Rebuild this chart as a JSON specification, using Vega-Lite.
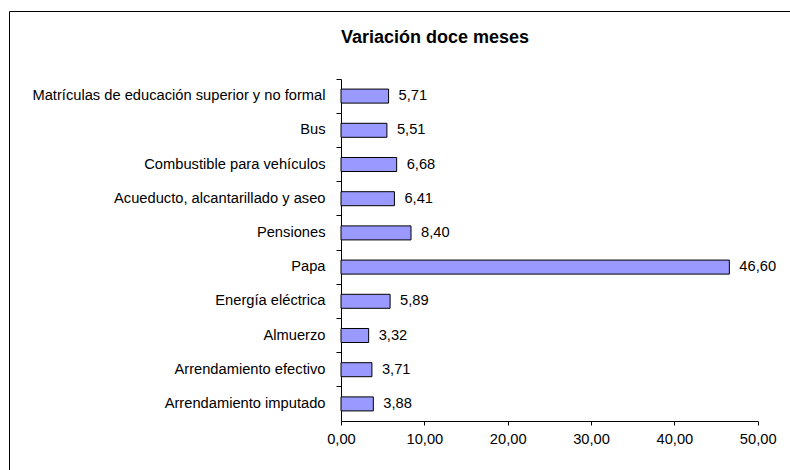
{
  "$schema": "https://vega.github.io/schema/vega-lite/v6.json",
  "autosize": {"type": "none"},
  "padding": {"left": 9, "top": 11, "right": 0, "bottom": 0},
  "width": 790,
  "height": 470,
  "background": "#ffffff",
  "config": {
    "locale": {"number": {"decimal": ",", "thousands": ".", "grouping": [3], "currency": ["$", ""]}},
    "view": {"stroke": "#000000", "strokeWidth": 1},
    "font": "Liberation Sans",
    "axis": {"labelFont": "Liberation Sans", "labelFontSize": 14.7, "labelColor": "#000000", "domainColor": "#000000", "tickColor": "#000000", "grid": false, "title": null, "labelLimit": 500}
  },
  "title": {
    "text": "Variación doce meses",
    "font": "Liberation Sans",
    "fontSize": 18,
    "fontWeight": "bold",
    "color": "#000000",
    "anchor": "middle",
    "frame": "group",
    "baseline": "alphabetic",
    "offset": 0,
    "dx": 31,
    "dy": 50
  },
  "data": {
    "values": [
      {"item": "Matrículas de educación superior y no formal", "valor": 5.71},
      {"item": "Bus", "valor": 5.51},
      {"item": "Combustible para vehículos", "valor": 6.68},
      {"item": "Acueducto, alcantarillado y aseo", "valor": 6.41},
      {"item": "Pensiones", "valor": 8.40},
      {"item": "Papa", "valor": 46.60},
      {"item": "Energía eléctrica", "valor": 5.89},
      {"item": "Almuerzo", "valor": 3.32},
      {"item": "Arrendamiento efectivo", "valor": 3.71},
      {"item": "Arrendamiento imputado", "valor": 3.88}
    ]
  },
  "encoding": {
    "y": {
      "field": "item",
      "type": "nominal",
      "sort": null,
      "scale": {"range": [68, 410], "paddingInner": 0, "paddingOuter": 0},
      "axis": {"orient": "left", "offset": -332, "bandPosition": 0, "tickSize": 5, "labelPadding": 11, "domainWidth": 1}
    },
    "x": {
      "field": "valor",
      "type": "quantitative",
      "scale": {"domain": [0, 50], "range": [332, 748.7], "nice": false, "zero": false},
      "axis": {"orient": "bottom", "offset": -60, "values": [0, 10, 20, 30, 40, 50], "format": ".2f", "tickSize": 4, "labelPadding": 6, "labelFlush": false}
    }
  },
  "layer": [
    {
      "mark": {"type": "bar", "height": {"band": 0.41}, "fill": "#9999FF", "stroke": "#000000", "strokeWidth": 1, "cornerRadius": 0}
    },
    {
      "mark": {"type": "text", "align": "left", "baseline": "middle", "dx": 10, "fontSize": 14.7, "font": "Liberation Sans", "color": "#000000"},
      "encoding": {"text": {"field": "valor", "type": "quantitative", "format": ".2f"}}
    }
  ]
}
